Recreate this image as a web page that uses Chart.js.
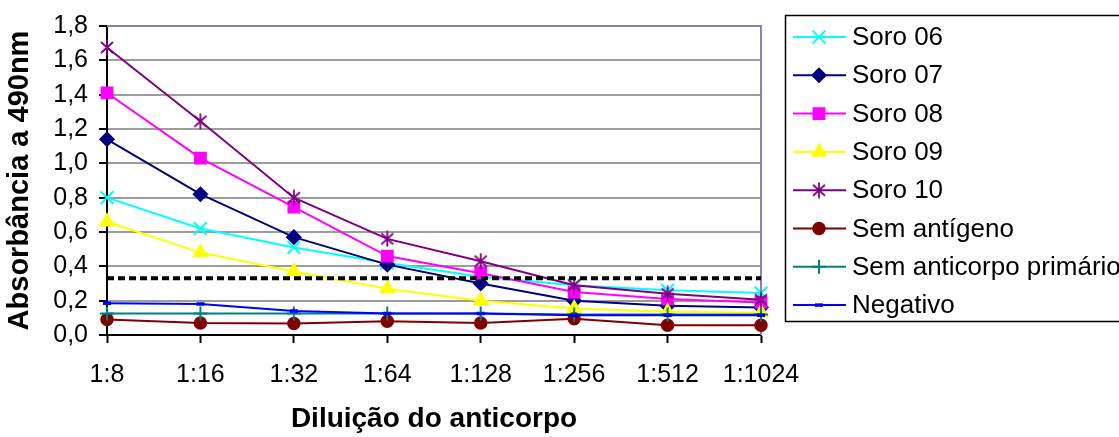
<!DOCTYPE html>
<html>
<head>
<meta charset="utf-8">
<script src="https://cdn.jsdelivr.net/npm/chart.js@4.4.1/dist/chart.umd.min.js"></script>
<style>
  html, body { margin: 0; padding: 0; background: #fff; }
  canvas { display: block; }
</style>
</head>
<body>
<canvas id="chart" width="1119" height="437"></canvas>
<script>
// Dilution series (x categories)
const dilutions = ['1:8', '1:16', '1:32', '1:64', '1:128', '1:256', '1:512', '1:1024'];

// Absorbance at 490 nm for each serum / control
const soro06       = [0.80, 0.62, 0.51, 0.42, 0.34, 0.29, 0.26, 0.245];
const soro07       = [1.14, 0.82, 0.57, 0.41, 0.30, 0.20, 0.17, 0.16];
const soro08       = [1.41, 1.03, 0.745, 0.46, 0.36, 0.25, 0.21, 0.19];
const soro09       = [0.66, 0.48, 0.37, 0.27, 0.20, 0.155, 0.135, 0.13];
const soro10       = [1.675, 1.245, 0.80, 0.56, 0.43, 0.29, 0.24, 0.205];
const semAntigeno  = [0.09, 0.07, 0.067, 0.08, 0.07, 0.095, 0.057, 0.057];
const semAnticorpo = [0.125, 0.125, 0.125, 0.125, 0.125, 0.12, 0.12, 0.12];
const negativo     = [0.185, 0.18, 0.14, 0.125, 0.125, 0.115, 0.115, 0.115];

// Cut-off level (dotted black line)
const cutoff = [0.33, 0.33, 0.33, 0.33, 0.33, 0.33, 0.33, 0.33];

// Y axis range
const yMin = 0, yMax = 1.8, yStep = 0.2;

const FONT = "'Liberation Sans', Arial, Helvetica, sans-serif";
Chart.defaults.font.family = FONT;
Chart.defaults.color = '#000';

// Asterisk marker: an X crossed by a vertical stroke
function asteriskMarker(color) {
  const c = document.createElement('canvas');
  c.width = 16; c.height = 17;
  const g = c.getContext('2d');
  g.strokeStyle = color; g.lineWidth = 1.8; g.lineCap = 'butt';
  g.beginPath();
  g.moveTo(2, 3); g.lineTo(14, 14);
  g.moveTo(14, 3); g.lineTo(2, 14);
  g.moveTo(8, 0.5); g.lineTo(8, 16.5);
  g.stroke();
  return c;
}

function series(label, data, color, style, radius, extra) {
  return Object.assign({
    label, data,
    borderColor: color,
    backgroundColor: color,
    pointBorderColor: color,
    pointBackgroundColor: color,
    borderWidth: 2,
    pointStyle: style,
    pointRadius: radius,
    pointHoverRadius: radius,
    pointBorderWidth: 1.5,
    tension: 0,
    fill: false
  }, extra || {});
}

const datasets = [
  series('Soro 06', soro06, '#00FFFF', 'crossRot', 9, { pointBorderWidth: 2, order: 8 }),
  series('Soro 07', soro07, '#000080', 'rectRot', 7, { order: 7 }),
  series('Soro 08', soro08, '#FF00FF', 'rect', 8, { order: 6 }),
  series('Soro 09', soro09, '#FFFF00', 'triangle', 8, { order: 5 }),
  series('Soro 10', soro10, '#800080', asteriskMarker('#800080'), 8, { order: 4 }),
  series('Sem antígeno', semAntigeno, '#800000', 'circle', 6, { order: 3 }),
  series('Sem anticorpo primário', semAnticorpo, '#008080', 'cross', 7, { pointBorderWidth: 2, order: 2 }),
  series('Negativo', negativo, '#0000FF', 'line', 4, { pointBorderWidth: 3.5, order: 1 }),
  {
    label: 'cutoff', data: cutoff,
    borderColor: '#000', borderWidth: 4, borderDash: [7, 4],
    pointRadius: 0, pointHoverRadius: 0, fill: false, order: 0,
    inLegend: false
  }
];

// Blue-grey frame on the top and right of the plot area
const frame = {
  id: 'frame',
  beforeDatasetsDraw(chart) {
    const { ctx, chartArea: a } = chart;
    ctx.save();
    ctx.strokeStyle = '#8484B4';
    ctx.lineWidth = 2;
    ctx.beginPath();
    ctx.moveTo(a.left, a.top);
    ctx.lineTo(a.right, a.top);
    ctx.lineTo(a.right, a.bottom);
    ctx.stroke();
    ctx.restore();
  }
};

// Boxed legend on the right, each entry a line segment with its marker
const sideLegend = {
  id: 'sideLegend',
  afterDraw(chart) {
    const { ctx } = chart;
    const entries = chart.data.datasets.filter(d => d.inLegend !== false);
    ctx.save();
    ctx.strokeStyle = '#000';
    ctx.lineWidth = 1.5;
    ctx.strokeRect(785.5, 15.5, 400, 306);
    ctx.font = '26px ' + FONT;
    ctx.textBaseline = 'middle';
    ctx.textAlign = 'left';
    entries.forEach((d, i) => {
      const y = 37 + i * 38.3;
      ctx.strokeStyle = d.borderColor;
      ctx.lineWidth = 2;
      ctx.setLineDash([]);
      ctx.beginPath();
      ctx.moveTo(793, y);
      ctx.lineTo(846, y);
      ctx.stroke();
      ctx.fillStyle = d.pointBackgroundColor;
      ctx.strokeStyle = d.pointBorderColor;
      ctx.lineWidth = d.pointBorderWidth;
      Chart.helpers.drawPoint(ctx, {
        pointStyle: d.pointStyle, rotation: 0,
        radius: d.pointRadius, borderWidth: d.pointBorderWidth
      }, 819, y);
      ctx.fillStyle = '#000';
      ctx.fillText(d.label, 852, y + 1);
    });
    ctx.restore();
  }
};

new Chart(document.getElementById('chart'), {
  type: 'line',
  data: { labels: dilutions, datasets },
  options: {
    responsive: false,
    devicePixelRatio: 1,
    animation: false,
    layout: { padding: { left: 0, top: 21, right: 358, bottom: 0 } },
    plugins: { legend: { display: false }, tooltip: { enabled: false } },
    scales: {
      x: {
        offset: false,
        grid: { display: true, drawOnChartArea: false, drawTicks: true, tickLength: 8, tickColor: '#000', tickWidth: 2 },
        border: { display: true, color: '#000', width: 2 },
        ticks: { font: { size: 25 }, padding: 17, maxRotation: 0, autoSkip: false },
        title: { display: true, text: 'Diluição do anticorpo', font: { size: 28, weight: 'bold' }, padding: { top: 0, bottom: 1 } },
        afterFit(scale) { scale.height = 102; }
      },
      y: {
        min: yMin, max: yMax,
        grid: {
          color: ctx => (ctx.tick && (ctx.tick.value === yMax || ctx.tick.value === yMin)) ? 'rgba(0,0,0,0)' : '#9C9C9C',
          lineWidth: 2, drawTicks: true, tickLength: 8, tickColor: '#000', tickWidth: 2
        },
        border: { display: true, color: '#000', width: 2 },
        ticks: {
          stepSize: yStep, font: { size: 25 }, padding: 11,
          callback: v => v.toFixed(1).replace('.', ',')
        },
        title: { display: true, text: 'Absorbância a 490nm', font: { size: 29, weight: 'bold' }, padding: { top: 3, bottom: 0 } },
        afterFit(scale) { scale.width = 107; }
      }
    }
  },
  plugins: [frame, sideLegend]
});
</script>
</body>
</html>
